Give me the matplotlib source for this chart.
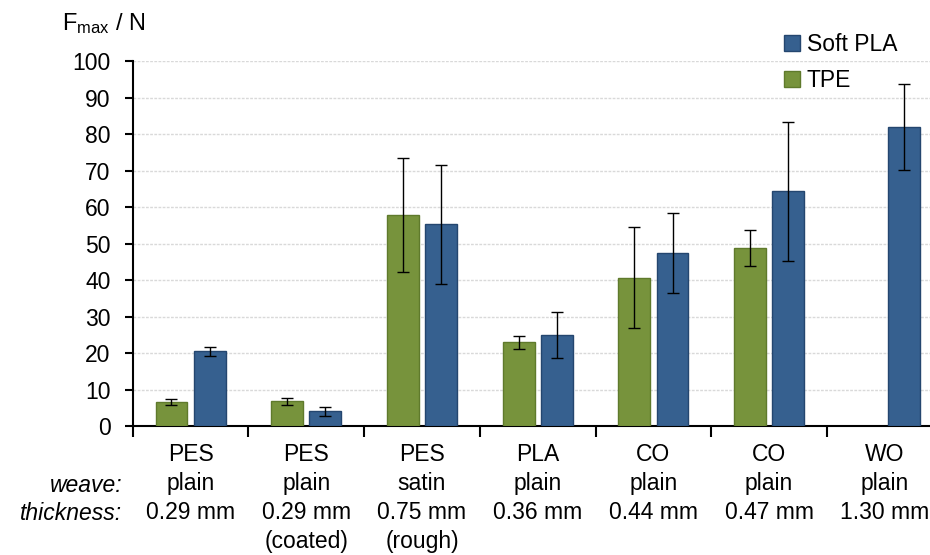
import numpy as np
import matplotlib
matplotlib.use('Agg')
import matplotlib.pyplot as plt

# %% Data

materials = ['PES', 'PES', 'PES', 'PLA', 'CO', 'CO', 'WO']
weaves = ['plain', 'plain', 'satin', 'plain', 'plain', 'plain', 'plain']
thickness = ['0.29 mm', '0.29 mm\n(coated)', '0.75 mm\n(rough)', '0.36 mm',
             '0.44 mm', '0.47 mm', '1.30 mm']

tpe = [6.6, 6.8, 57.8, 23.0, 40.7, 48.8, np.nan]
tpe_err = [0.8, 1.0, 15.6, 1.8, 13.8, 4.8, np.nan]
soft_pla = [20.5, 4.1, 55.3, 24.9, 47.5, 64.3, 82.0]
soft_pla_err = [1.2, 1.3, 16.3, 6.3, 11.0, 19.0, 11.8]

yticks = np.arange(0, 101, 10)

# %% Style

plt.rcParams.update({'font.family': 'Liberation Sans',
                     'font.size': 16.5,
                     'mathtext.fontset': 'custom',
                     'mathtext.rm': 'Liberation Sans',
                     'mathtext.it': 'Liberation Sans:italic'})

green = '#77933c'
green_edge = '#5f7a2c'
blue = '#36608f'
blue_edge = '#24466f'

# %% Plot

fig = plt.figure(figsize=(9.3, 5.55), dpi=100)
ax = fig.add_axes([132.7/930, 128.7/555, 810/930, 365.3/555])

x = np.arange(len(materials))
w = 0.275
off = 0.165
ax.bar(x - off, tpe, w, color=green, edgecolor=green_edge, linewidth=1, label='TPE', zorder=3)
ax.bar(x + off, soft_pla, w, color=blue, edgecolor=blue_edge, linewidth=1, label='Soft PLA', zorder=3)
ax.errorbar(x - off, tpe, yerr=tpe_err, fmt='none', ecolor='black', elinewidth=1,
            capsize=4.5, capthick=1, zorder=4)
ax.errorbar(x + off, soft_pla, yerr=soft_pla_err, fmt='none', ecolor='black', elinewidth=1,
            capsize=4.5, capthick=1, zorder=4)

ax.set_xlim(-0.5, len(materials) - 0.5)
ax.set_ylim(0, 100)
ax.set_yticks(yticks)
ax.yaxis.grid(True, color='#d9d9d9', linestyle=(0, (2, 1)), linewidth=1, zorder=0)

# boundaries as major ticks, labels at category centres as minor ticks
ax.set_xticks(np.arange(len(materials) + 1) - 0.5)
ax.set_xticklabels([])
ax.set_xticks(x, minor=True)
ax.set_xticklabels([m + '\n' + wv + '\n' + t for m, wv, t in zip(materials, weaves, thickness)],
                   minor=True, linespacing=1.34, va='top')
ax.tick_params(axis='x', which='major', length=8, width=1.5, direction='out')
ax.tick_params(axis='x', which='minor', length=0, pad=12)
ax.tick_params(axis='y', length=6, width=1.5, direction='out', pad=10)

for s in ['top', 'right']:
    ax.spines[s].set_visible(False)
for s in ['left', 'bottom']:
    ax.spines[s].set_linewidth(1.5)

fig.text(122/930, 1 - 485/555, 'weave:', ha='right', va='center', style='italic')
fig.text(122/930, 1 - 514/555, 'thickness:', ha='right', va='center', style='italic')
fig.text(62/930, 1 - 24/555, r'F$_{\mathrm{max}}$ / N', ha='left', va='center', fontsize=17)

handles, labels = ax.get_legend_handles_labels()
ax.legend(handles[::-1], labels[::-1], loc='upper left',
          bbox_to_anchor=(763/930, 1 - 12/555), bbox_transform=fig.transFigure,
          frameon=False, handlelength=0.7, handleheight=0.7, handletextpad=0.3,
          labelspacing=0.6, fontsize=16.5)

fig.savefig('out.png', dpi=100)
